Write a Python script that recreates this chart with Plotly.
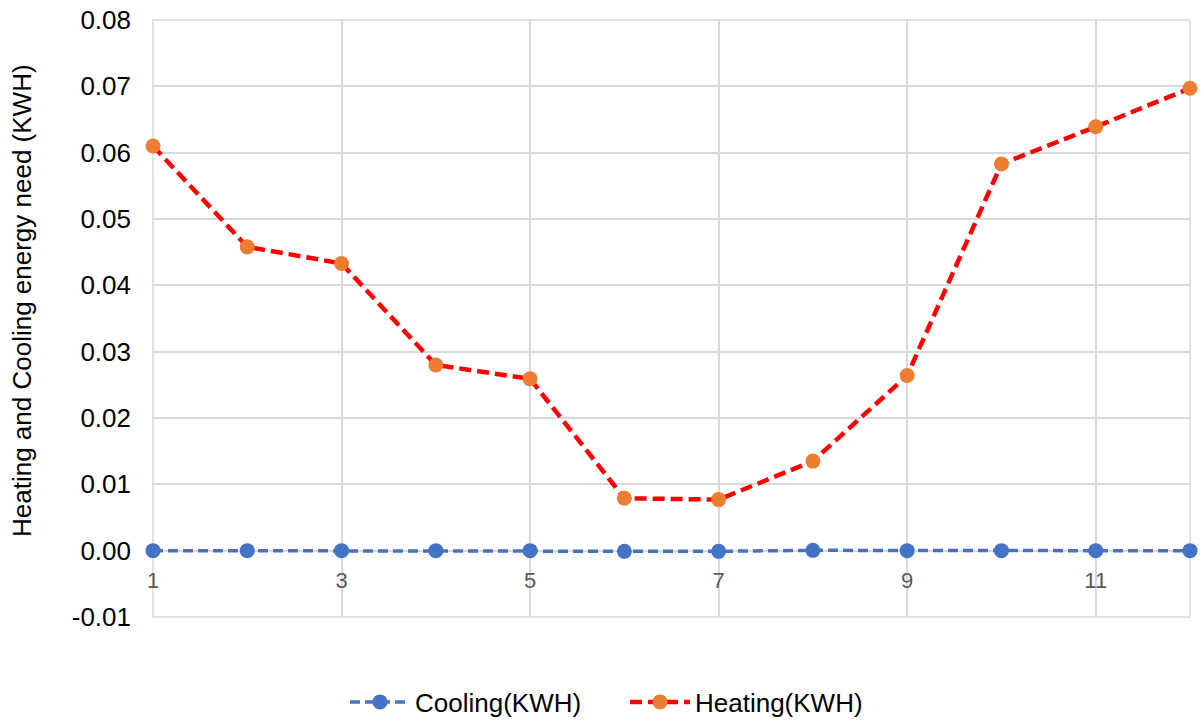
import plotly.graph_objects as go

months = [1, 2, 3, 4, 5, 6, 7, 8, 9, 10, 11, 12]
cooling_kwh = [0.0, 0.0, 0.0, 0.0, 0.0, -0.0001, -0.0001, 0.00005, 0.0, 0.0, 0.0, 0.0]
heating_kwh = [0.0610, 0.0458, 0.0433, 0.0280, 0.0259, 0.0079, 0.0077, 0.0135, 0.0264, 0.0583, 0.0639, 0.0697]

y_tick_vals = [-0.01, 0.0, 0.01, 0.02, 0.03, 0.04, 0.05, 0.06, 0.07, 0.08]
y_tick_text = ["-0.01", "0.00", "0.01", "0.02", "0.03", "0.04", "0.05", "0.06", "0.07", "0.08"]

y_title = "Heating and Cooling energy need (KWH)"
font_family = "Liberation Sans, Arial, sans-serif"
grid = "#d9d9d9"

fig = go.Figure()
fig.add_trace(go.Scatter(
    x=months, y=cooling_kwh, name="Cooling(KWH)", mode="lines+markers",
    line=dict(color="#4472C4", width=3.5, dash="10px,5px"),
    marker=dict(color="#4472C4", size=15), cliponaxis=False))
fig.add_trace(go.Scatter(
    x=months, y=heating_kwh, name="Heating(KWH)", mode="lines+markers",
    line=dict(color="#FF0000", width=4.5, dash="12px,6px"),
    marker=dict(color="#ED7D31", size=15), cliponaxis=False))

W, H = 1204, 721
L, R, T, B = 153, 14, 20, 104
plot_w = W - L - R
plot_h = H - T - B
plot_bottom = T + plot_h

y_lo, y_hi = -0.01, 0.08
y0_frac = (0 - y_lo) / (y_hi - y_lo)
eps = 1e-9

# plot-area border
fig.add_shape(type="rect", xref="paper", yref="paper", x0=0, x1=1, y0=0, y1=1,
              line=dict(color=grid, width=1.5), layer="below")

fig.add_annotation(
    text=y_title, textangle=-90, showarrow=False,
    xref="paper", yref="paper",
    x=(22 - L) / plot_w, xanchor="center",
    y=(plot_bottom - 301) / plot_h, yanchor="middle",
    font=dict(size=26, color="#000000"))

fig.update_layout(
    width=W, height=H,
    margin=dict(l=L, r=R, t=T, b=B, autoexpand=False),
    paper_bgcolor="white", plot_bgcolor="white",
    font=dict(family=font_family, color="#000000"),
    showlegend=True,
    legend=dict(orientation="h",
                x=(345 - L) / plot_w, xanchor="left",
                y=-(702 - plot_bottom) / plot_h, yanchor="middle",
                font=dict(size=26, color="#000000"),
                itemwidth=60,
                entrywidth=205, entrywidthmode="pixels",
                tracegroupgap=0),
    xaxis=dict(range=[1, 12], tick0=1, dtick=2, showgrid=True, gridcolor=grid,
               gridwidth=1.5, zeroline=False, showline=False,
               anchor="free", position=y0_frac, automargin=False,
               ticks="", ticklabelstandoff=14,
               tickfont=dict(size=22, color="#595959")),
    yaxis=dict(range=[y_lo - eps, y_hi + eps], tickmode="array",
               tickvals=y_tick_vals, ticktext=y_tick_text,
               showgrid=True, gridcolor=grid, gridwidth=1.5, zeroline=False,
               showline=False, automargin=False, ticklabeloverflow="allow",
               ticks="", ticklabelstandoff=21,
               tickfont=dict(size=26, color="#000000")),
)

fig.write_html("out.html",
               config={"displayModeBar": False},
               post_script="document.body.style.margin='0';document.body.style.overflow='hidden';")
